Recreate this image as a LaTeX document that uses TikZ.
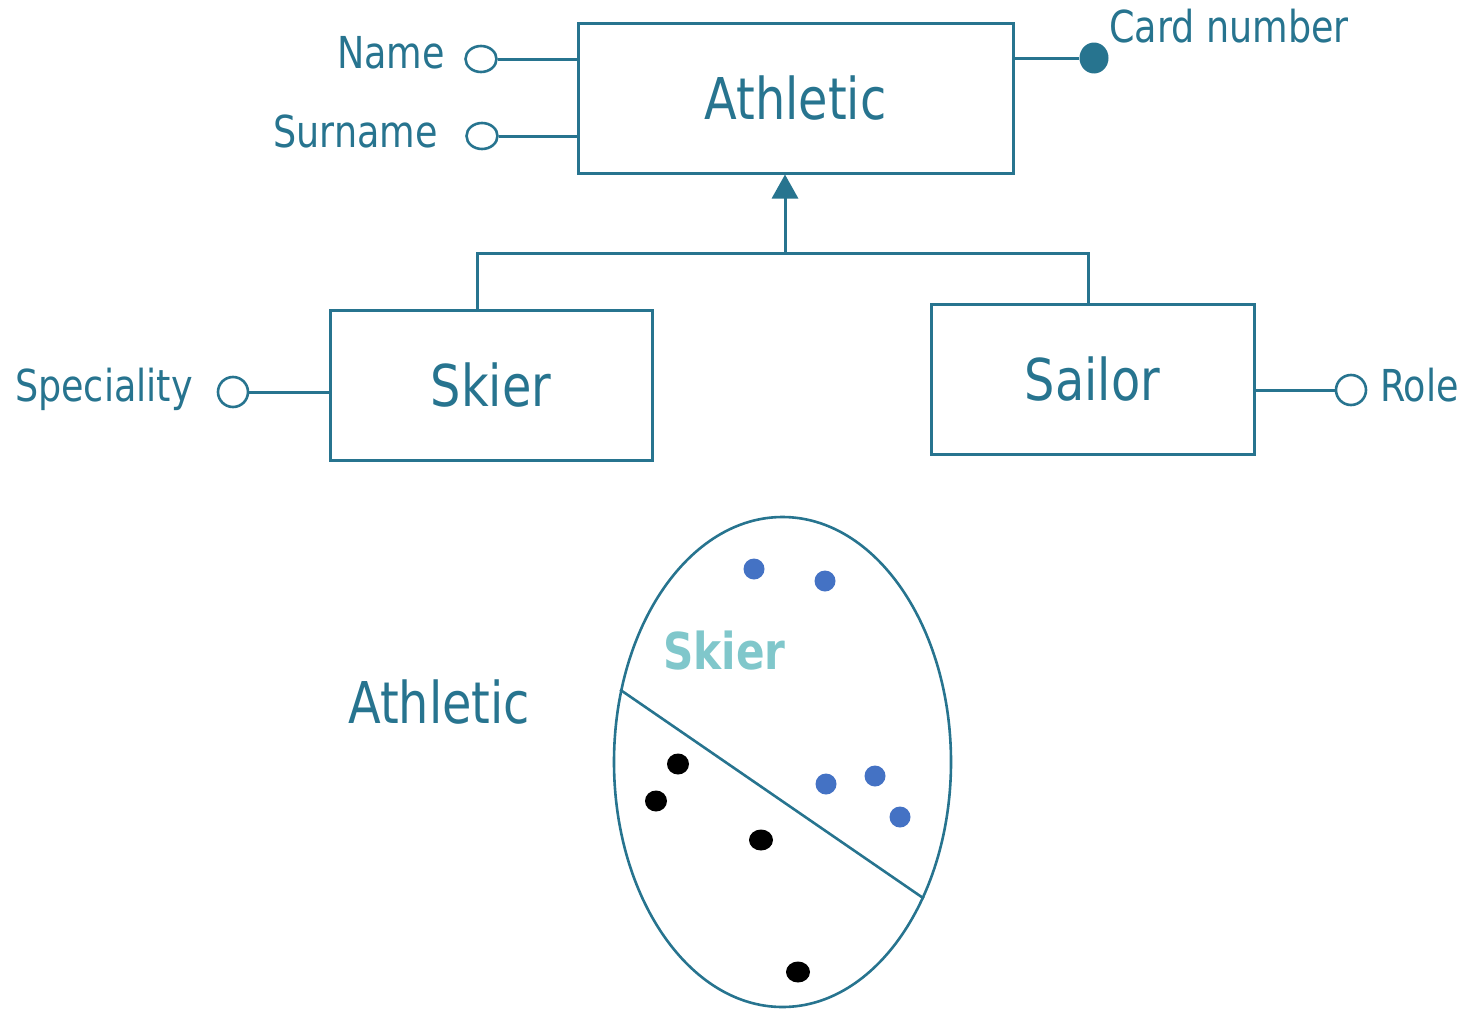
\documentclass[tikz,border=0pt]{standalone}
\usepackage{fontspec}
\setmainfont{DejaVu Sans}[FakeStretch=0.83]
\usetikzlibrary{shapes.geometric,arrows.meta}
\definecolor{teal}{HTML}{27748F}
\definecolor{lightteal}{HTML}{80C7CB}
\definecolor{dotblue}{HTML}{4472C4}
\begin{document}
\begin{tikzpicture}[x=1pt,y=-1pt,
  entity/.style={draw=teal,line width=3pt,rectangle,inner sep=0pt,
    minimum height=150pt,text=teal,font=\fontsize{57.6}{64}\selectfont},
  attr/.style={draw=teal,line width=2.6pt,ellipse,inner sep=0pt,fill=white},
  keyattr/.style={fill=teal,ellipse,inner sep=0pt,minimum width=29pt,minimum height=31pt},
  lbl/.style={inner sep=0pt,text=teal,font=\fontsize{44}{50}\selectfont},
  biglbl/.style={inner sep=0pt,text=teal,font=\fontsize{57.6}{64}\selectfont},
  link/.style={draw=teal,line width=3pt},
  member/.style={circle,inner sep=0pt,minimum size=21pt},
  blackmember/.style={ellipse,inner sep=0pt,fill=black,minimum width=22pt,minimum height=21pt}
]
\useasboundingbox (0,0) rectangle (1470,1009);

% entity boxes
\node[entity,minimum width=435pt] (athletic) at (795.5,98) {Athletic};
\node[entity,minimum width=322pt] (skier) at (491,385) {Skier};
\node[entity,minimum width=323pt] (sailor) at (1092.5,379) {Sailor};

% attributes of Athletic
\node[attr,minimum width=31pt,minimum height=26pt] (namec) at (481,59) {};
\node[attr,minimum width=31pt,minimum height=26pt] (surnamec) at (482,136) {};
\node[keyattr] (cardc) at (1094,58) {};
\node[lbl,anchor=base east] (namet) at (445,68) {Name};
\node[lbl,anchor=base east] (surnamet) at (438,147) {Surname};
\node[lbl,anchor=base west] (cardt) at (1109,42) {Card number};
\draw[link] (namec.east) -- (namec.east -| athletic.west);
\draw[link] (surnamec.east) -- (surnamec.east -| athletic.west);
\draw[link] (athletic.east |- cardc) -- (cardc.west);

% attributes of the subclasses
\node[attr,minimum width=30pt,minimum height=30pt] (specc) at (233,392) {};
\node[lbl,anchor=base east] (spect) at (193,401) {Speciality};
\draw[link] (specc.east) -- (specc.east -| skier.west);
\node[attr,minimum width=30pt,minimum height=30pt] (rolec) at (1351,390) {};
\node[lbl,anchor=base west] (rolet) at (1380,401) {Role};
\draw[link] (sailor.east |- rolec) -- (rolec.west);

% generalisation hierarchy
\coordinate (sj) at (477,253);
\coordinate (hub) at (785,253);
\coordinate (rj) at (1088,253);
\draw[link,line join=miter] (sj |- skier.north) -- (sj) -- (rj) -- (rj |- sailor.north);
\draw[link,-{Triangle[length=24pt,width=26pt]}] (hub) -- (hub |- athletic.south);

% set diagram
\node[biglbl,anchor=base west] (athset) at (348,723) {Athletic};
\node[draw=teal,line width=2.6pt,ellipse,inner sep=0pt,
  minimum width=337pt,minimum height=490pt] (set) at (782.5,762) {};
\draw[link,line width=2.6pt] (set.156.6) -- (set.-44.7);
\node[inner sep=0pt,anchor=base west,text=lightteal,
  font=\fontsize{50.8}{56}\selectfont\bfseries] (skierset) at (663,669) {Skier};

\node[member,fill=dotblue] (b1) at (754,569) {};
\node[member,fill=dotblue] (b2) at (825,581) {};
\node[member,fill=dotblue] (b3) at (826,784) {};
\node[member,fill=dotblue] (b4) at (875,776) {};
\node[member,fill=dotblue] (b5) at (900,817) {};

\node[blackmember] (k1) at (678,764) {};
\node[blackmember] (k2) at (656,801) {};
\node[blackmember,minimum width=24pt] (k3) at (761,840) {};
\node[blackmember,minimum width=24pt] (k4) at (798,972) {};
\end{tikzpicture}
\end{document}
